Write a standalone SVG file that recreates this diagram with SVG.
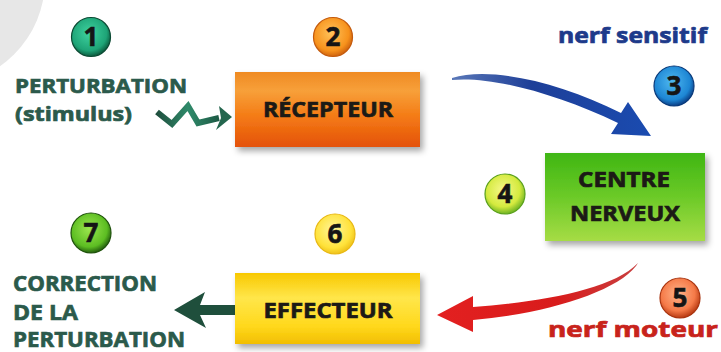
<svg xmlns="http://www.w3.org/2000/svg" width="721" height="352" viewBox="0 0 721 352">
<defs>
<style>
.lbl{font-family:"Open Sans","Liberation Sans",sans-serif;font-weight:700;stroke-width:0.7;}
.dk{fill:#2b5a4b;stroke:#2b5a4b;}
.box{font-family:"Open Sans","Liberation Sans",sans-serif;font-weight:700;fill:#1c1a16;stroke:#1c1a16;stroke-width:0.7;text-anchor:middle;}
.num{font-family:"Open Sans","Liberation Sans",sans-serif;font-weight:700;font-size:26px;fill:#151515;stroke:#151515;stroke-width:0.6;text-anchor:middle;}
.rim{stroke-width:1.2;}
</style>
<filter id="sh" x="-10%" y="-10%" width="125%" height="135%">
<feDropShadow dx="3" dy="4" stdDeviation="3" flood-color="#000" flood-opacity="0.35"/>
</filter>
<linearGradient id="gOr" x1="0" y1="0" x2="0" y2="1">
<stop offset="0" stop-color="#ef8a22"/><stop offset="0.25" stop-color="#f7a03a"/><stop offset="0.6" stop-color="#f47a14"/><stop offset="1" stop-color="#e4520c"/>
</linearGradient>
<linearGradient id="gGr" x1="0" y1="0" x2="0" y2="1">
<stop offset="0" stop-color="#3fb612"/><stop offset="0.5" stop-color="#6cca28"/><stop offset="1" stop-color="#a6dc45"/>
</linearGradient>
<linearGradient id="gYe" x1="0" y1="0" x2="0" y2="1">
<stop offset="0" stop-color="#f8c800"/><stop offset="0.35" stop-color="#ffe64a"/><stop offset="0.75" stop-color="#ffd81c"/><stop offset="1" stop-color="#f2be00"/>
</linearGradient>
<radialGradient id="c1" cx="0.45" cy="0.4" r="0.6"><stop offset="0" stop-color="#3fd3a0"/><stop offset="0.75" stop-color="#1ea477"/><stop offset="1" stop-color="#0b5a3e"/></radialGradient>
<radialGradient id="c2" cx="0.45" cy="0.4" r="0.6"><stop offset="0" stop-color="#ffc35a"/><stop offset="0.75" stop-color="#f7921c"/><stop offset="1" stop-color="#d0640e"/></radialGradient>
<radialGradient id="c3" cx="0.45" cy="0.4" r="0.6"><stop offset="0" stop-color="#4fb8f0"/><stop offset="0.75" stop-color="#1d86d4"/><stop offset="1" stop-color="#0b3f86"/></radialGradient>
<radialGradient id="c4" cx="0.45" cy="0.4" r="0.6"><stop offset="0" stop-color="#f6f88a"/><stop offset="0.7" stop-color="#d4ea3e"/><stop offset="1" stop-color="#6fb424"/></radialGradient>
<radialGradient id="c5" cx="0.45" cy="0.4" r="0.6"><stop offset="0" stop-color="#ffb48a"/><stop offset="0.7" stop-color="#f57a48"/><stop offset="1" stop-color="#b83a12"/></radialGradient>
<radialGradient id="c6" cx="0.45" cy="0.4" r="0.6"><stop offset="0" stop-color="#fff59a"/><stop offset="0.75" stop-color="#ffe23a"/><stop offset="1" stop-color="#efc21a"/></radialGradient>
<radialGradient id="c7" cx="0.45" cy="0.4" r="0.6"><stop offset="0" stop-color="#9be64e"/><stop offset="0.75" stop-color="#5cbd22"/><stop offset="1" stop-color="#24600e"/></radialGradient>
<linearGradient id="gBl" x1="0" y1="0" x2="1" y2="0"><stop offset="0" stop-color="#5a78b8"/><stop offset="0.4" stop-color="#1e3f98"/><stop offset="1" stop-color="#1a4bb0"/></linearGradient>
<linearGradient id="gRd" x1="1" y1="0" x2="0" y2="0"><stop offset="0" stop-color="#c84040"/><stop offset="0.4" stop-color="#d81c1c"/><stop offset="1" stop-color="#e32020"/></linearGradient>
<linearGradient id="gSq" x1="0" y1="0" x2="1" y2="0"><stop offset="0" stop-color="#1f4f3e"/><stop offset="0.5" stop-color="#2f8a6a"/><stop offset="1" stop-color="#1d5a45"/></linearGradient>
</defs>
<rect width="721" height="352" fill="#ffffff"/>
<circle cx="-60" cy="-20" r="105" fill="#e7e7e7"/>

<g id="connectors">
<g id="squiggle">
<polyline points="157,112 172,124 188,106 198,123 219,118" fill="none" stroke="url(#gSq)" stroke-width="6" stroke-linejoin="miter"/>
<polygon points="232,117 219,106 221,118 216,130" fill="#24664e"/>
</g>
<path id="nerf-sensitif" d="M452,78 C490,66 560,82 621,113 L628,102 L651,136 L611,134 L618,123 C555,93 490,76 452,80 Z" fill="url(#gBl)"/>
<path id="nerf-moteur" d="M638,263 C612,290 540,302 473,307 L473,296 L437,315 L473,332 L473,320 C545,314 616,292 636,266 Z" fill="url(#gRd)"/>
<path id="correction" d="M174,310 L205,292 L200,305 L236,305 L236,315 L200,315 L206,328 Z" fill="#1f4f3c"/>
</g>

<g id="n1">
<circle class="rim" cx="91" cy="37" r="19.5" fill="url(#c1)" stroke="#0b4a33"/>
<text class="num" x="91" y="46">1</text>
<text class="lbl dk" x="15" y="93" font-size="20" textLength="172" lengthAdjust="spacingAndGlyphs">PERTURBATION</text>
<text class="lbl dk" x="15" y="121" font-size="20" textLength="117" lengthAdjust="spacingAndGlyphs">(stimulus)</text>
</g>

<g id="n2">
<circle class="rim" cx="333" cy="37" r="19.5" fill="url(#c2)" stroke="#c45a0c"/>
<text class="num" x="333" y="46">2</text>
<rect x="235" y="72" width="185" height="75" fill="url(#gOr)" filter="url(#sh)"/>
<text class="box" x="328" y="117" font-size="22" textLength="130" lengthAdjust="spacingAndGlyphs">RÉCEPTEUR</text>
</g>

<g id="n3">
<text class="lbl" x="558" y="43" font-size="22" fill="#1d3a8a" stroke="#1d3a8a" textLength="149" lengthAdjust="spacingAndGlyphs">nerf sensitif</text>
<circle class="rim" cx="674" cy="86" r="20" fill="url(#c3)" stroke="#0a3a7a"/>
<text class="num" x="674" y="95">3</text>
</g>

<g id="n4">
<circle class="rim" cx="505" cy="194" r="20" fill="url(#c4)" stroke="#5aa01c"/>
<text class="num" x="505" y="203">4</text>
<rect x="545" y="153" width="160" height="88" fill="url(#gGr)" filter="url(#sh)"/>
<text class="box" x="624" y="187" font-size="21" textLength="92" lengthAdjust="spacingAndGlyphs">CENTRE</text>
<text class="box" x="625" y="221" font-size="21" textLength="110" lengthAdjust="spacingAndGlyphs">NERVEUX</text>
</g>

<g id="n5">
<circle class="rim" cx="680" cy="298" r="20" fill="url(#c5)" stroke="#a8340f"/>
<text class="num" x="680" y="307">5</text>
<text class="lbl" x="548" y="337" font-size="22" fill="#c8231b" stroke="#c8231b" textLength="170" lengthAdjust="spacingAndGlyphs">nerf moteur</text>
</g>

<g id="n6">
<circle class="rim" cx="335" cy="234" r="20" fill="url(#c6)" stroke="#e8b814"/>
<text class="num" x="335" y="243">6</text>
<rect x="235" y="273" width="185" height="71" fill="url(#gYe)" filter="url(#sh)"/>
<text class="box" x="328" y="318" font-size="22" textLength="129" lengthAdjust="spacingAndGlyphs">EFFECTEUR</text>
</g>

<g id="n7">
<circle class="rim" cx="91" cy="233" r="20" fill="url(#c7)" stroke="#1f520c"/>
<text class="num" x="91" y="242">7</text>
<text class="lbl dk" x="13" y="291" font-size="22" textLength="144" lengthAdjust="spacingAndGlyphs">CORRECTION</text>
<text class="lbl dk" x="13" y="320" font-size="22" textLength="65" lengthAdjust="spacingAndGlyphs">DE LA</text>
<text class="lbl dk" x="13" y="347" font-size="22" textLength="172" lengthAdjust="spacingAndGlyphs">PERTURBATION</text>
</g>
</svg>
